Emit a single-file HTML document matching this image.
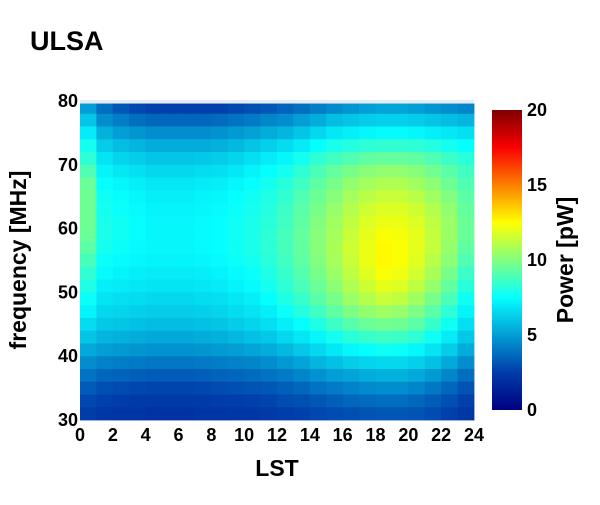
<!DOCTYPE html>
<html><head><meta charset="utf-8"><style>
body{margin:0;background:#fff;font-family:"Liberation Sans",sans-serif}
svg text{font-family:"Liberation Sans",sans-serif;font-weight:bold;fill:#000}
</style></head><body>
<svg id="chart" width="600" height="500">
<text x="30" y="50" font-size="27">ULSA</text>
<rect x="80" y="100" width="394" height="320" fill="#e5ecf6"/>
<g id="cells"></g>
<g id="xt"></g>
<g id="yt"></g>
<text x="277" y="476" font-size="23" text-anchor="middle">LST</text>
<text transform="translate(26,260) rotate(-90)" font-size="23" text-anchor="middle">frequency [MHz]</text>
<defs><linearGradient id="jet" x1="0" y1="1" x2="0" y2="0">
<stop offset="0" stop-color="rgb(0,0,131)"/><stop offset="0.125" stop-color="rgb(0,60,170)"/><stop offset="0.375" stop-color="rgb(5,255,255)"/><stop offset="0.625" stop-color="rgb(255,255,0)"/><stop offset="0.875" stop-color="rgb(250,0,0)"/><stop offset="1" stop-color="rgb(128,0,0)"/></linearGradient></defs>
<rect x="492" y="110" width="30" height="300" fill="url(#jet)"/>
<g id="ct"></g>
<text transform="translate(573,260) rotate(-90)" font-size="23" text-anchor="middle">Power [pW]</text>
</svg>
<script>
const hours = [0,1,2,3,4,5,6,7,8,9,10,11,12,13,14,15,16,17,18,19,20,21,22,23];
const freqs = [79,77,75,73,71,69,67,65,63,61,59,57,55,53,51,49,47,45,43,41,39,37,35,33,31];
const power = [
[5.0,3.8,3.2,2.8,2.6,2.6,2.6,2.6,2.6,2.8,3.0,3.2,3.5,3.8,4.2,4.5,4.8,5.0,5.2,5.2,5.0,4.8,4.6,4.4],
[6.0,4.6,4.2,3.8,3.6,3.6,3.6,3.6,3.7,3.9,4.1,4.4,4.6,5.0,5.4,5.8,6.0,6.2,6.3,6.3,6.2,6.0,5.8,5.6],
[7.0,5.5,5.0,4.8,4.6,4.6,4.6,4.6,4.7,4.9,5.1,5.4,5.6,6.0,6.5,6.9,7.1,7.3,7.4,7.4,7.3,7.1,6.9,6.7],
[7.8,6.2,5.8,5.6,5.4,5.4,5.4,5.4,5.5,5.7,6.0,6.3,6.6,7.0,7.5,7.9,8.1,8.3,8.4,8.4,8.3,8.1,7.8,7.5],
[8.3,6.8,6.4,6.2,6.0,6.0,6.0,6.1,6.2,6.4,6.7,7.0,7.3,7.8,8.3,8.7,9.0,9.3,9.4,9.4,9.3,9.0,8.6,8.2],
[9.0,7.2,6.9,6.7,6.5,6.5,6.5,6.6,6.7,6.9,7.2,7.5,7.8,8.3,8.9,9.4,9.8,10.1,10.3,10.3,10.1,9.7,9.2,8.7],
[9.5,7.5,7.3,7.1,6.9,6.9,6.9,7.0,7.1,7.3,7.5,7.8,8.2,8.7,9.3,9.8,10.3,10.7,10.9,10.9,10.6,10.2,9.6,9.0],
[9.6,7.7,7.5,7.3,7.1,7.1,7.1,7.2,7.3,7.5,7.7,8.0,8.4,9.0,9.6,10.1,10.7,11.1,11.4,11.4,11.1,10.6,10.0,9.2],
[9.6,7.8,7.6,7.4,7.2,7.2,7.2,7.3,7.4,7.6,7.8,8.1,8.6,9.2,9.8,10.4,11.0,11.5,11.8,11.8,11.5,11.0,10.3,9.4],
[9.6,7.9,7.7,7.5,7.3,7.3,7.3,7.4,7.5,7.7,7.9,8.2,8.7,9.3,10.0,10.6,11.2,11.8,12.1,12.1,11.8,11.2,10.5,9.5],
[9.5,7.9,7.7,7.5,7.3,7.3,7.3,7.4,7.5,7.7,7.9,8.3,8.8,9.4,10.1,10.7,11.4,12.0,12.4,12.3,12.0,11.3,10.5,9.5],
[9.2,7.8,7.6,7.4,7.3,7.3,7.3,7.4,7.5,7.7,7.9,8.3,8.8,9.4,10.1,10.8,11.5,12.1,12.6,12.4,12.0,11.3,10.4,9.3],
[8.8,7.6,7.4,7.3,7.2,7.2,7.2,7.3,7.4,7.6,7.8,8.2,8.7,9.3,10.0,10.7,11.4,12.1,12.6,12.4,11.9,11.1,10.2,9.0],
[8.4,7.4,7.2,7.1,7.0,7.0,7.0,7.1,7.2,7.4,7.6,8.0,8.5,9.1,9.8,10.5,11.2,11.9,12.4,12.2,11.6,10.8,9.8,8.6],
[8.0,7.1,7.0,6.9,6.8,6.8,6.8,6.9,7.0,7.2,7.4,7.8,8.3,8.9,9.5,10.2,10.9,11.5,12.0,11.8,11.2,10.4,9.4,8.2],
[7.6,6.8,6.7,6.6,6.5,6.5,6.5,6.6,6.7,6.9,7.1,7.5,8.0,8.5,9.2,9.8,10.5,11.0,11.4,11.2,10.6,9.8,8.9,7.7],
[7.2,6.5,6.4,6.3,6.2,6.2,6.2,6.3,6.4,6.6,6.8,7.1,7.6,8.1,8.7,9.3,9.9,10.3,10.6,10.4,9.9,9.2,8.3,7.2],
[6.6,6.1,6.0,5.9,5.8,5.8,5.8,5.9,6.0,6.2,6.4,6.7,7.1,7.5,8.0,8.6,9.1,9.5,9.7,9.6,9.2,8.5,7.7,6.7],
[6.0,5.6,5.5,5.4,5.3,5.3,5.3,5.4,5.5,5.7,5.9,6.1,6.5,6.9,7.3,7.8,8.2,8.5,8.7,8.6,8.3,7.7,7.0,6.1],
[5.3,5.0,4.9,4.8,4.7,4.7,4.7,4.8,4.9,5.0,5.2,5.4,5.7,6.1,6.5,6.9,7.3,7.5,7.7,7.6,7.3,6.8,6.2,5.4],
[4.6,4.3,4.2,4.1,4.0,4.0,4.0,4.1,4.2,4.3,4.4,4.6,4.9,5.2,5.6,5.9,6.2,6.4,6.5,6.5,6.3,5.9,5.3,4.6],
[3.9,3.6,3.5,3.4,3.3,3.3,3.3,3.4,3.5,3.6,3.7,3.9,4.1,4.4,4.7,5.0,5.2,5.4,5.5,5.5,5.3,4.9,4.4,3.8],
[3.3,3.0,2.9,2.8,2.7,2.7,2.7,2.8,2.9,3.0,3.1,3.2,3.4,3.6,3.9,4.1,4.3,4.5,4.6,4.6,4.4,4.0,3.6,3.1],
[2.8,2.6,2.5,2.4,2.4,2.4,2.4,2.4,2.5,2.5,2.6,2.7,2.9,3.0,3.2,3.4,3.6,3.7,3.8,3.8,3.6,3.3,3.0,2.6],
[2.5,2.3,2.2,2.2,2.1,2.1,2.1,2.2,2.2,2.3,2.3,2.4,2.5,2.6,2.8,2.9,3.0,3.1,3.2,3.2,3.1,2.9,2.6,2.3]
];
const xTicks = [0,2,4,6,8,10,12,14,16,18,20,22,24];
const yTicks = [30,40,50,60,70,80];
const cTicks = [0,5,10,15,20];
const NS='http://www.w3.org/2000/svg';
const xS = h => 80 + h*(394/24);
const yS = f => 420 - (f-30)*(319/50);
const cS = v => 410 - v*(300/20);
const STOPS=[[0,0,0,131],[0.125,0,60,170],[0.375,5,255,255],[0.625,255,255,0],[0.875,250,0,0],[1,128,0,0]];
function jet(v){
  const t=Math.max(0,Math.min(1,v/20));
  for(let k=1;k<STOPS.length;k++){
    if(t<=STOPS[k][0]){
      const a=STOPS[k-1],b=STOPS[k],u=(t-a[0])/(b[0]-a[0]);
      return `rgb(${Math.round(a[1]+(b[1]-a[1])*u)},${Math.round(a[2]+(b[2]-a[2])*u)},${Math.round(a[3]+(b[3]-a[3])*u)})`;
    }
  }
  return 'rgb(128,0,0)';
}
const cells=document.getElementById('cells');
freqs.forEach((f,i)=>{hours.forEach((h,j)=>{
  const r=document.createElementNS(NS,'rect');
  const top=Math.min(f+1,79.6);
  r.setAttribute('x',xS(h)); r.setAttribute('width',xS(h+1)-xS(h)+0.4);
  r.setAttribute('y',yS(top)); r.setAttribute('height',yS(f-1)-yS(top)+0.4);
  r.setAttribute('fill',jet(power[i][j]));
  
  
  cells.appendChild(r);
});});
function txt(g,x,y,s,anchor){
  const t=document.createElementNS(NS,'text');
  t.setAttribute('x',x);t.setAttribute('y',y);t.setAttribute('font-size','18');
  t.setAttribute('text-anchor',anchor);t.textContent=s;
  
  
  g.appendChild(t);
}
const xt=document.getElementById('xt');
xTicks.forEach(v=>txt(xt,xS(v),441,String(v),'middle'));
const yt=document.getElementById('yt');
yTicks.forEach(v=>txt(yt,78,yS(v)+6,String(v),'end'));
const ct=document.getElementById('ct');
cTicks.forEach(v=>txt(ct,527,cS(v)+6,String(v),'start'));
</script>
</body></html>
